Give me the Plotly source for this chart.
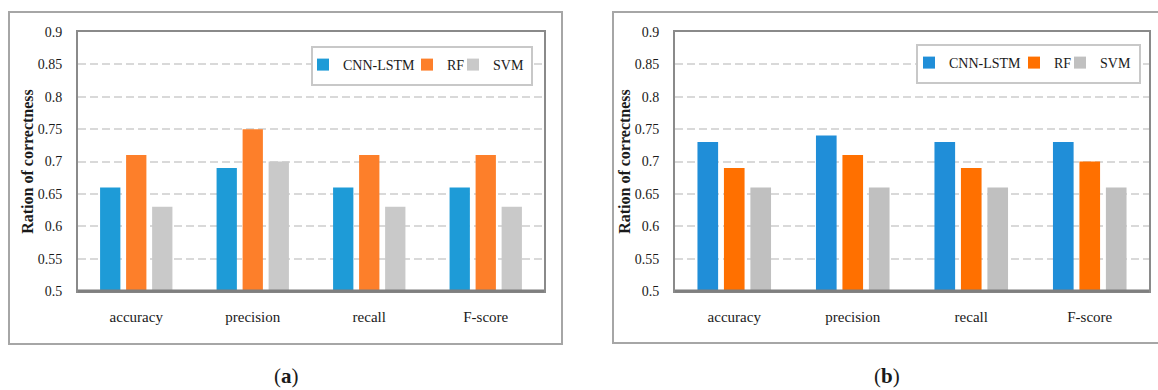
import plotly.graph_objects as go

categories = ["accuracy", "precision", "recall", "F-score"]
series_names = ["CNN-LSTM", "RF", "SVM"]

a_cnn_lstm = [0.66, 0.69, 0.66, 0.66]
a_rf = [0.71, 0.75, 0.71, 0.71]
a_svm = [0.63, 0.70, 0.63, 0.63]

b_cnn_lstm = [0.73, 0.74, 0.73, 0.73]
b_rf = [0.69, 0.71, 0.69, 0.70]
b_svm = [0.66, 0.66, 0.66, 0.66]

y_ticks = [0.5, 0.55, 0.6, 0.65, 0.7, 0.75, 0.8, 0.85, 0.9]
y_tick_text = ["0.5", "0.55", "0.6", "0.65", "0.7", "0.75", "0.8", "0.85", "0.9"]

colors_a = ["#1E9BD7", "#FD7F2A", "#C9C9C9"]
colors_b = ["#208ED8", "#FF7000", "#C0C0C0"]

W, H = 1158, 390
FONT = "Liberation Serif"
TXT = "#1a1a1a"

def px_x(v):
    return v / W

def px_y(v):
    return 1 - v / H

# legend entry text start positions (px) for each panel
legend_text_a = [343, 447, 493]
legend_text_b = [949, 1054, 1100]
legend_y_a, legend_y_b = 65, 63

fig = go.Figure()

legend_ids = []
for i, (name, vals, col) in enumerate(zip(series_names, [a_cnn_lstm, a_rf, a_svm], colors_a)):
    lid = "legend" if i == 0 else f"legend{i + 1}"
    legend_ids.append((lid, legend_text_a[i], legend_y_a))
    fig.add_trace(go.Bar(x=categories, y=vals, name=name, marker=dict(color=col, line=dict(width=0)),
                         xaxis="x", yaxis="y", legend=lid))
for i, (name, vals, col) in enumerate(zip(series_names, [b_cnn_lstm, b_rf, b_svm], colors_b)):
    lid = f"legend{i + 4}"
    legend_ids.append((lid, legend_text_b[i], legend_y_b))
    fig.add_trace(go.Bar(x=categories, y=vals, name=name, marker=dict(color=col, line=dict(width=0)),
                         xaxis="x2", yaxis="y2", legend=lid))

ydom = [px_y(291), px_y(32)]
axis_common_x = dict(showline=True, linecolor="#8a8a8a", linewidth=2, mirror=True,
                     showgrid=False, ticks="", ticklabelstandoff=11, automargin=False,
                     tickfont=dict(family=FONT, size=15, color=TXT), fixedrange=True)
axis_common_y = dict(range=[0.5, 0.9], tickvals=y_ticks, ticktext=y_tick_text,
                     showline=True, linecolor="#8a8a8a", linewidth=2, mirror=True,
                     showgrid=True, gridcolor="#D9D9D9", gridwidth=1.5, griddash="8px,4px",
                     ticks="", ticklabelstandoff=11, zeroline=False, fixedrange=True, automargin=False,
                     tickfont=dict(family=FONT, size=14, color=TXT),
                     title=dict(text="<b>Ration of correctness</b>", standoff=0,
                                font=dict(family=FONT, size=16, color=TXT)))

layout = dict(
    width=W, height=H,
    margin=dict(l=0, r=0, t=0, b=0, autoexpand=False),
    paper_bgcolor="white", plot_bgcolor="white",
    barmode="group", bargap=0.33, bargroupgap=0.22,
    xaxis=dict(domain=[px_x(78), px_x(544)], anchor="y", **axis_common_x),
    yaxis=dict(domain=ydom, anchor="x", **axis_common_y),
    xaxis2=dict(domain=[px_x(675), px_x(1149)], anchor="y2", **axis_common_x),
    yaxis2=dict(domain=ydom, anchor="x2", **axis_common_y),
    showlegend=True,
)
for lid, tx, ty in legend_ids:
    layout[lid] = dict(orientation="h", x=px_x(tx - 40), y=px_y(ty), xanchor="left", yanchor="middle",
                       bgcolor="rgba(0,0,0,0)", borderwidth=0,
                       font=dict(family=FONT, size=14, color=TXT))
fig.update_layout(**layout)

shapes = [
    dict(type="rect", xref="paper", yref="paper", x0=px_x(9), x1=px_x(562), y0=px_y(344), y1=px_y(12),
         line=dict(color="#A6A6A6", width=2), fillcolor="rgba(0,0,0,0)", layer="below"),
    dict(type="rect", xref="paper", yref="paper", x0=px_x(613), x1=px_x(1162), y0=px_y(343), y1=px_y(12),
         line=dict(color="#A6A6A6", width=2), fillcolor="rgba(0,0,0,0)", layer="below"),
    dict(type="rect", xref="paper", yref="paper", x0=px_x(312), x1=px_x(532), y0=px_y(85), y1=px_y(47),
         line=dict(color="#C8C8C8", width=2), fillcolor="white", layer="above"),
    dict(type="rect", xref="paper", yref="paper", x0=px_x(917), x1=px_x(1140), y0=px_y(83), y1=px_y(45),
         line=dict(color="#C8C8C8", width=2), fillcolor="white", layer="above"),
    # heavier category axis line
    dict(type="line", xref="x domain", yref="y domain", x0=0, x1=1, y0=0, y1=0,
         line=dict(color="#7F7F7F", width=3), layer="above"),
    dict(type="line", xref="x2 domain", yref="y2 domain", x0=0, x1=1, y0=0, y1=0,
         line=dict(color="#7F7F7F", width=3), layer="above"),
]
fig.update_layout(shapes=shapes)

fig.add_annotation(text="(<b>a</b>)", x=px_x(286), y=px_y(376), xref="paper", yref="paper",
                   showarrow=False, font=dict(family=FONT, size=21, color=TXT), xanchor="center", yanchor="middle")
fig.add_annotation(text="(<b>b</b>)", x=px_x(887), y=px_y(376), xref="paper", yref="paper",
                   showarrow=False, font=dict(family=FONT, size=21, color=TXT), xanchor="center", yanchor="middle")

post = (
    "var d=document.getElementById('{plot_id}');"
    "document.documentElement.style.margin='0';document.documentElement.style.padding='0';"
    "document.documentElement.style.height='390px';document.documentElement.style.overflow='hidden';"
    "document.body.style.margin='0';document.body.style.padding='0';"
    "document.body.style.height='390px';document.body.style.overflow='hidden';"
    "d.style.display='block';"
    "if(d.parentElement){d.parentElement.style.height='390px';d.parentElement.style.overflow='hidden';"
    "d.parentElement.style.lineHeight='0';d.parentElement.style.fontSize='0';}"
)

fig.write_html("out.html", config={"displayModeBar": False, "responsive": False}, post_script=post)
